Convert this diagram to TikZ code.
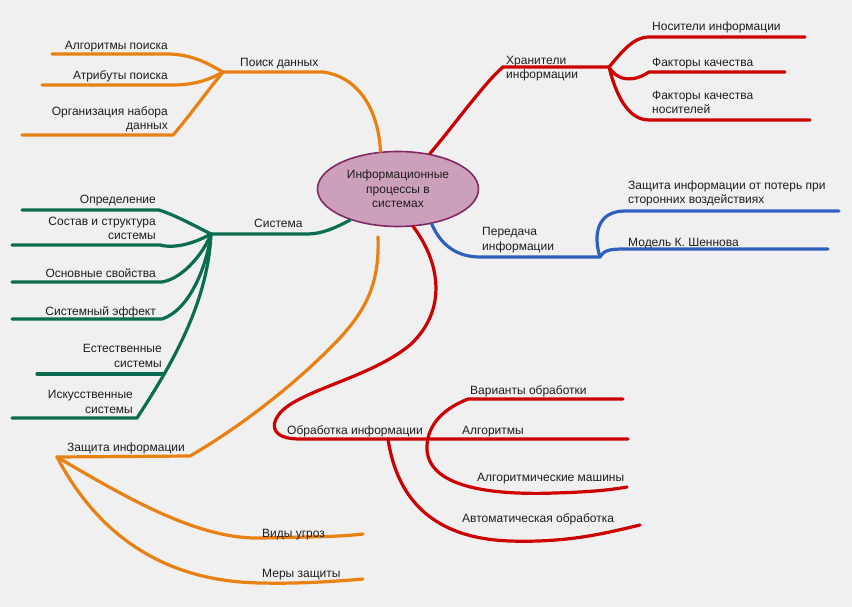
\documentclass[tikz,border=0pt]{standalone}
\usepackage{fontspec}
\setmainfont{Liberation Sans}
\usetikzlibrary{shapes.geometric}
\definecolor{bgC}{RGB}{240,240,240}
\definecolor{orC}{RGB}{232,128,18}
\definecolor{rdC}{RGB}{204,0,0}
\definecolor{grC}{RGB}{10,108,80}
\definecolor{blC}{RGB}{48,96,190}
\definecolor{elF}{RGB}{204,160,186}
\definecolor{elD}{RGB}{130,40,100}
\definecolor{txC}{RGB}{30,30,30}
\begin{document}
\begin{tikzpicture}[x=1pt,y=-1pt,
  lbl/.style={font=\fontsize{12}{14.5}\selectfont, text=txC, inner sep=0pt},
  lblL/.style={lbl, anchor=base west, align=left},
  lblR/.style={lbl, anchor=base east, align=right},
  brn/.style={line width=3.2pt, line cap=round, line join=round},
  obr/.style={brn, draw=orC},
  rbr/.style={brn, draw=rdC},
  gbr/.style={brn, draw=grC},
  bbr/.style={brn, draw=blC}]
\fill[bgC] (0,0) rectangle (852,607);

% central node
\node[ellipse, draw=elD, fill=elF, line width=1.6pt, minimum width=161pt, minimum height=75pt, lbl, align=center] (core) at (398,189) {Информационные\\процессы в\\системах};

% coordinates
\coordinate (pHub) at (223,72);
\coordinate (pE1) at (52,54);
\coordinate (pE2) at (42,85);
\coordinate (pE3) at (22,135);
\coordinate (zStart) at (378,237);
\coordinate (zHub) at (57,457);
\coordinate (vE) at (363,534);
\coordinate (mE) at (363,579);
\coordinate (kHub) at (609,67);
\coordinate (kE1) at (805,37);
\coordinate (kE2) at (785,72);
\coordinate (kE3) at (810,120);
\coordinate (bHub) at (600,257);
\coordinate (bE1) at (839,211);
\coordinate (bE2) at (828,249);
\coordinate (gHub) at (211,234);
\coordinate (gE1) at (22,210);
\coordinate (gE2) at (12,245);
\coordinate (gE3) at (12,282);
\coordinate (gE4) at (12,319);
\coordinate (gE5) at (12,418);
\coordinate (gJ) at (164,374);
\coordinate (gE6) at (37,374);
\coordinate (oE) at (628,439);
\coordinate (aHub) at (388,439);
\coordinate (sA) at (623,399);
\coordinate (sB) at (627,487);
\coordinate (aE) at (640,525);

% orange: search
\draw[obr] (core.115) .. controls (378,105) and (355,76) .. (323,72) -- (pHub);
\draw[obr] (pHub) .. controls (210,65) and (195,55) .. (170,54) -- (pE1);
\draw[obr] (pHub) .. controls (212,78) and (198,85) .. (172,85) -- (pE2);
\draw[obr] (pHub) .. controls (208,90) and (188,118) .. (173,135) -- (pE3);

% orange: protection
\draw[obr] (zStart) .. controls (380,290) and (362,318) .. (322,356) .. controls (285,392) and (235,430) .. (190,456) -- (zHub);
\draw[obr] (zHub) .. controls (130,500) and (200,540) .. (262,538) .. controls (300,537) and (340,537) .. (vE);
\draw[obr] (zHub) .. controls (90,520) and (150,582) .. (262,583) .. controls (300,584) and (340,581) .. (mE);

% red: keepers
\draw[rbr] (core.48.6) .. controls (452,128) and (485,82) .. (503,67) -- (kHub);
\draw[rbr] (kHub) .. controls (622,52) and (633,37) .. (649,37) -- (kE1);
\draw[rbr] (kHub) .. controls (618,82) and (634,82) .. (649,72) -- (kE2);
\draw[rbr] (kHub) .. controls (616,95) and (628,120) .. (649,120) -- (kE3);

% blue: transfer
\draw[bbr] (core.-46.7) .. controls (442,248) and (460,257) .. (480,257) -- (bHub);
\draw[bbr] (bHub) .. controls (593,235) and (597,211) .. (625,211) -- (bE1);
\draw[bbr] (bHub) .. controls (604,250) and (610,249) .. (625,249) -- (bE2);

% green: system
\draw[gbr] (core.213) .. controls (335,228) and (322,234) .. (307,234) -- (gHub);
\draw[gbr] (gHub) .. controls (195,226) and (175,215) .. (159,210) -- (gE1);
\draw[gbr] (gHub) .. controls (195,243) and (175,249) .. (160,245) -- (gE2);
\draw[gbr] (gHub) .. controls (205,250) and (185,278) .. (162,282) -- (gE3);
\draw[gbr] (gHub) .. controls (207,265) and (190,310) .. (162,319) -- (gE4);
\draw[gbr] (gHub) .. controls (208,300) and (175,360) .. (137,418) -- (gE5);
\draw[gbr] (gJ) -- (gE6);

% red: processing
\draw[rbr] (core.-68) .. controls (440,262) and (448,310) .. (410,345) .. controls (370,378) and (300,390) .. (280,413) .. controls (268,428) and (275,439) .. (300,439) -- (oE);
\draw[rbr] (sA) -- (468,399) .. controls (440,410) and (426,428) .. (427,450) .. controls (430,490) and (500,495) .. (555,493) .. controls (590,492) and (610,490) .. (sB);
\draw[rbr] (aHub) .. controls (395,485) and (420,538) .. (510,541) .. controls (570,543) and (610,532) .. (aE);

% labels (multi-line labels are anchored at their last baseline)
\node[lblL] (tP) at (240,67) {Поиск данных};
\node[lblR] (tP1) at (168,50) {Алгоритмы поиска};
\node[lblR] (tP2) at (168,80) {Атрибуты поиска};
\node[lblR] (tP3) at (168,130) {Организация набора\\данных};

\node[lblL] (tK) at (506,79) {Хранители\\информации};
\node[lblL] (tK1) at (652,31) {Носители информации};
\node[lblL] (tK2) at (652,67) {Факторы качества};
\node[lblL] (tK3) at (652,114) {Факторы качества\\носителей};

\node[lblL] (tB) at (482,250) {Передача\\информации};
\node[lblL] (tB1) at (628,204) {Защита информации от потерь при\\сторонних воздействиях};
\node[lblL] (tB2) at (628,246) {Модель К. Шеннова};

\node[lblL] (tG) at (254,228) {Система};
\node[lblR] (tG1) at (156,204) {Определение};
\node[lblR] (tG2) at (156,240) {Состав и структура\\системы};
\node[lblR] (tG3) at (156,277) {Основные свойства};
\node[lblR] (tG4) at (156,315) {Системный эффект};
\node[lblR] (tG5) at (162,367) {Естественные\\системы};
\node[lblR] (tG6) at (133,413) {Искусственные\\системы};

\node[lblL] (tZ) at (67,451) {Защита информации};
\node[lblL] (tZ1) at (262,537) {Виды угроз};
\node[lblL] (tZ2) at (262,577) {Меры защиты};

\node[lblL] (tO) at (287,434) {Обработка информации};
\node[lblL] (tO1) at (470,394) {Варианты обработки};
\node[lblL] (tO2) at (462,434) {Алгоритмы};
\node[lblL] (tO3) at (477,481) {Алгоритмические машины};
\node[lblL] (tO4) at (462,522) {Автоматическая обработка};
\end{tikzpicture}
\end{document}
